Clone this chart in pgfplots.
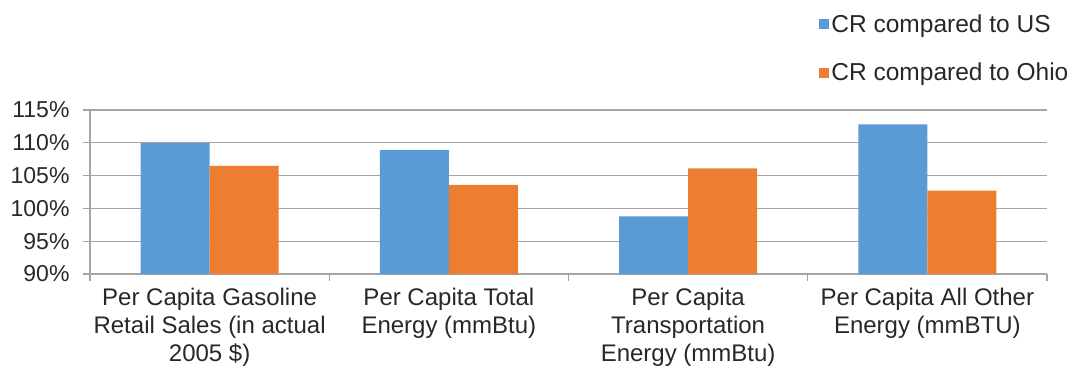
\documentclass[border=0pt]{standalone}
\usepackage{pgfplots}
\pgfplotsset{compat=1.18}
\usepackage{fontspec}
\setmainfont{Liberation Sans}
\definecolor{cblue}{RGB}{91,155,213}
\definecolor{corange}{RGB}{237,125,49}
\definecolor{gridc}{RGB}{165,165,165}
\definecolor{txt}{RGB}{40,40,40}
\begin{document}
\begin{tikzpicture}[x=1pt,y=1pt]
\begin{axis}[
  at={(90pt,96pt)}, anchor=south west,
  scale only axis, width=957pt, height=164pt,
  xmin=-0.5, xmax=3.5, ymin=90, ymax=115,
  ybar=0pt, bar width=69pt,
  xtick={0,1,2,3},
  xticklabels={{Per Capita Gasoline\\Retail Sales (in actual\\2005 \$)},
               {Per Capita Total\\Energy (mmBtu)},
               {Per Capita\\Transportation\\Energy (mmBtu)},
               {Per Capita All Other\\Energy (mmBTU)}},
  minor xtick={-0.5,0.5,1.5,2.5,3.5},
  xticklabel style={align=center, font=\fontsize{24}{28}\selectfont, text=txt, yshift=-4pt},
  ytick={90,95,...,115},
  yticklabel={\pgfmathprintnumber{\tick}\%},
  /pgf/number format/assume math mode=true,
  yticklabel style={font=\fontsize{23}{26}\selectfont, text=txt, xshift=-10pt},
  ymajorgrids, grid style={gridc, line width=1.3pt},
  axis x line*=bottom, axis y line*=left,
  axis line style={gridc, line width=1.3pt},
  major x tick style={draw=none},
  minor x tick style={gridc, line width=1.3pt},
  minor tick length=7pt,
  tick align=outside,
  major y tick style={gridc, line width=1.3pt},
  major tick length=7pt,
  separate axis lines,
  every outer x axis line/.append style={-},
  every outer y axis line/.append style={-},
  legend style={draw=none, fill=none, at={(0.762,1.607)}, anchor=north west,
    font=\fontsize{24.5}{26}\selectfont, text=txt, row sep=25pt,
    legend cell align=left, inner xsep=0pt,
    /tikz/every even column/.append style={column sep=4pt}},
]
\addplot[fill=cblue, draw=none,
  legend image code/.code={\fill[cblue] (0pt,-5pt) rectangle (10pt,5pt);}]
  coordinates {(0,110.0) (1,108.9) (2,98.8) (3,112.8)};
\addplot[fill=corange, draw=none,
  legend image code/.code={\fill[corange] (0pt,-5pt) rectangle (10pt,5pt);}]
  coordinates {(0,106.5) (1,103.6) (2,106.1) (3,102.7)};
\legend{CR compared to US, CR compared to Ohio}
\end{axis}
\pgfresetboundingbox
\useasboundingbox (0,0) rectangle (1076,370);
\end{tikzpicture}
\end{document}
